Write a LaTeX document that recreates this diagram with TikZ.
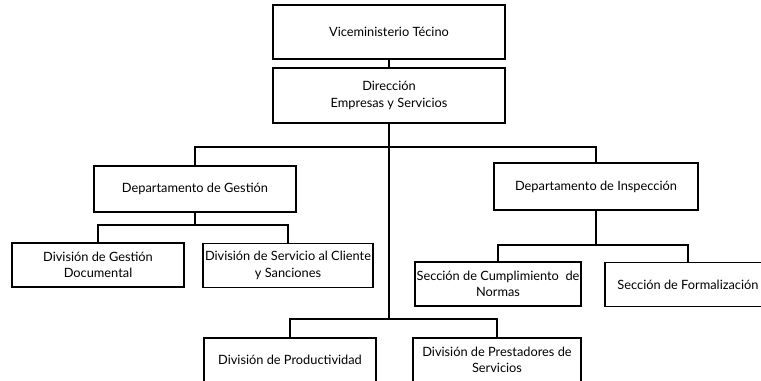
\documentclass[tikz,border=0pt]{standalone}
\usepackage{fontspec}
\setmainfont{Lato}
\usepackage{tikz}

\begin{document}
\begin{tikzpicture}[x=0.75pt, y=-0.75pt,
  box/.style={draw=black, line width=0.8pt, minimum width=#1, inner sep=1pt,
              minimum height=33pt, align=center, font=\fontsize{9.6}{12.5}\selectfont},
  link/.style={line width=0.8pt, draw=black}
]
  \clip (0,0) rectangle (761,381);

  % Nodes
  \node[box=174pt, minimum height=40.5pt]  (vice) at (389,32)    {Viceministerio Técino};
  \node[box=174pt, minimum height=41.25pt] (dir)  at (389,95.5)  {Dirección\\Empresas y Servicios};
  \node[box=151.5pt, minimum height=34.5pt] (gest) at (195,189)   {Departamento de Gestión};
  \node[box=153pt, minimum height=35.25pt]  (insp) at (596,186.5) {Departamento de Inspección};
  \node[box=129pt]   (docu) at (98,265)    {División de Gestión\\Documental};
  \node[box=127.5pt] (serv) at (288,265.5) {División de Servicio al Cliente\\y Sanciones};
  \node[box=124.5pt] (cump) at (498,284)   {Sección de Cumplimiento~~de\\Normas};
  \node[box=124.5pt] (form) at (688,284.5) {Sección de Formalización};
  \node[box=129pt]   (prod) at (290,360)   {División de Productividad};
  \node[box=126pt]   (pres) at (497,360)   {División de Prestadores de\\Servicios};

  % Junctions
  \coordinate (topbus)  at (389,147);
  \coordinate (gestbus) at (195,225);
  \coordinate (inspbus) at (596,245);
  \coordinate (lowbus)  at (389,319);

  % Lines
  \draw[link] (vice) -- (dir);
  \draw[link] (dir.south) -- (lowbus);
  \draw[link] (gest.north) |- (topbus) -| (insp.north);
  \draw[link] (gest.south) -- (gestbus);
  \draw[link] (docu.north) |- (gestbus) -| (serv.north);
  \draw[link] (insp.south) -- (inspbus);
  \draw[link] (cump.north) |- (inspbus) -| (form.north);
  \draw[link] (prod.north) |- (lowbus) -| (pres.north);
\end{tikzpicture}
\end{document}
